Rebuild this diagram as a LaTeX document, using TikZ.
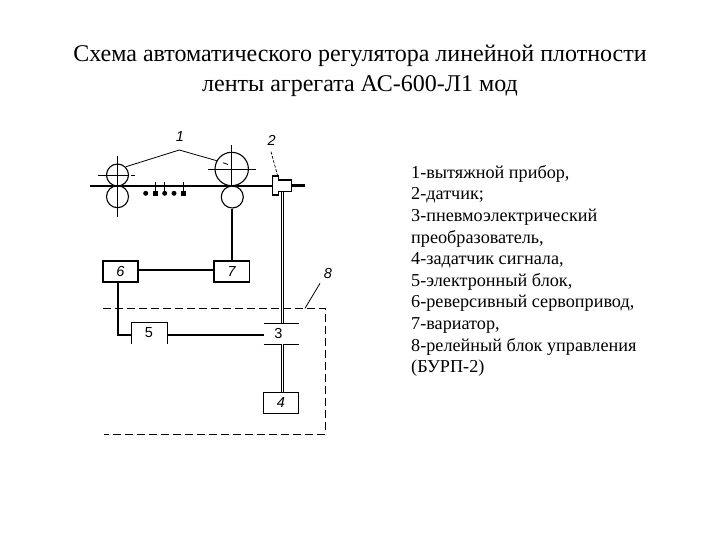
\documentclass[tikz,border=0pt]{standalone}
\usepackage{fontspec}
\setmainfont{Liberation Serif}
\setsansfont{Liberation Sans}
\usepackage{tikz}
\tikzset{
  thin line/.style={line width=0.8pt},
  thick line/.style={line width=2pt},
  shaft/.style={double=white,double distance=1.6pt,line width=1.1pt},
  axis line/.style={line width=0.6pt},
  frame line/.style={line width=0.9pt,dash pattern=on 8pt off 4pt},
  roller/.style={circle,draw,line width=1.1pt,inner sep=0pt},
  unit/.style={rectangle,inner sep=0pt,minimum width=35.4pt,minimum height=21pt,font=\sffamily\fontsize{14.5}{14.5}\selectfont},
  number/.style={inner sep=0pt,font=\sffamily\itshape\fontsize{14.5}{14.5}\selectfont},
}
\begin{document}
\begin{tikzpicture}[x=1pt,y=-1pt]
    \useasboundingbox (0,0) rectangle (720,540);
    \node[font=\fontsize{24}{29.5}\selectfont,align=center] (title) at (360,71)
      {Схема автоматического регулятора линейной плотности\\ленты агрегата АС-600-Л1 мод};
    \node[anchor=north west,inner sep=0pt,align=left,font=\fontsize{18.2}{21.6}\selectfont] (legend) at (411,165)
      {1-вытяжной прибор,\\2-датчик;\\3-пневмоэлектрический\\преобразователь,\\4-задатчик сигнала,\\5-электронный блок,\\6-реверсивный сервопривод,\\7-вариатор,\\8-релейный блок управления\\(БУРП-2)};

    % rollers and strip
    \node[roller,minimum size=22pt] (r1) at (117.5,175) {};
    \node[roller,minimum size=22pt] (r2) at (117.5,196.7) {};
    \node[roller,minimum size=33.4pt] (r3) at (231.7,169) {};
    \node[roller,minimum size=22pt] (r4) at (232.3,197) {};
    \coordinate (s0) at (90,185.7);
    \coordinate (s1) at (272.7,185.7);
    \coordinate (s2) at (291.7,185.7);
    \coordinate (s3) at (305,185.7);
    \draw[line width=1.7pt] (s0) -- (s1);
    \draw[line width=2.6pt] (s2) -- (s3);
    \draw[axis line] (98.3,175) -- (128,175);
    \draw[axis line] (131,175) -- (135,175);
    \draw[axis line] (117.5,156) -- (117.5,216.7);
    \draw[axis line] (208,169) -- (256,169);
    \draw[axis line] (231.7,145) -- (231.7,186);

    % needle bars under the strip
    \foreach \x in {145.7,164.7,174} \fill (\x,193.3) circle (2.5pt);
    \foreach \x in {155.3,183.3} \fill (\x-2.3,191) rectangle (\x+2.3,195.6);
    \foreach \x in {155.3,164.7,183.3} \draw[thin line] (\x,182) -- (\x,193);

    % sensor
    \draw[line width=1.4pt,fill=white] (272.7,176) -- (278.3,176) -- (278.3,180) -- (291.7,180)
      -- (291.7,191.7) -- (278.3,191.7) -- (278.3,195) -- (272.7,195) -- cycle;

    % units
    \node[unit,draw,line width=1.5pt] (b6) at (120.5,271.5) {\itshape 6};
    \node[unit,draw,line width=1.3pt] (b7) at (231.7,271.5) {\itshape 7};
    \node[unit] (b5) at (149,332.8) {5};
    \node[unit] (b3) at (281.5,333.8) {3\hspace*{6pt}};
    \node[unit,draw,line width=0.9pt] (b4) at (281,402.8) {\itshape 4};
    \draw[thin line] (b5.south west) -- (b5.north west) -- (b5.north east) -- (b5.south east);
    \draw[thin line] (b3.north west) -- (b3.north east);
    \draw[thin line] (b3.south west) -- (b3.south east);

    % connections
    \coordinate (sensor) at (282.5,192);
    \draw[shaft] (sensor) -- (282.5,323.3);
    \draw[shaft] (282.5,344.3) -- (282.5,392.3);
    \draw[line width=2.8pt] (b6.east |- 0,270) -- (b7.west |- 0,270);
    \draw[thick line] (r4.south) -- (r4.south |- b7.north);
    \draw[thick line] (118,282) -- (118,335) -- (b5.west |- 0,335);
    \draw[thick line] (168,335) -- (b3.west |- 0,335);

    % dashed frame of block 8
    \draw[frame line] (103,308.3) -- (325,308.3) -- (325,434) -- (104,434);

    % numbers and leader lines
    \node[number] (n1) at (180,137) {1};
    \coordinate (k1) at (179.3,150);
    \draw[thin line] (126,166.7) -- (k1) -- (216.7,160.7);
    \draw[thin line] (223,162.8) -- (228,164.5);
    \node[number] (n2) at (271.7,140.7) {2};
    \draw[line width=0.7pt,dash pattern=on 3pt off 1.5pt] (271,151.7) -- (277.7,176);
    \node[number] (n8) at (328,274) {8};
    \draw[thin line] (305,308.3) -- (320,283.3);
  \end{tikzpicture}
\end{document}
